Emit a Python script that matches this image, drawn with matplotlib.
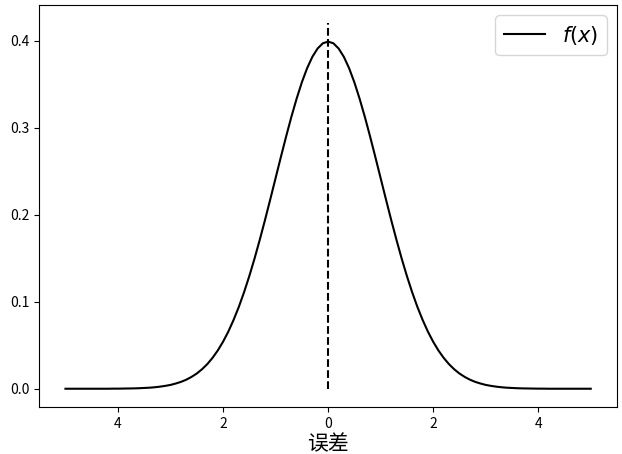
# Normal error curve f(x) with the mean marked.
import matplotlib
matplotlib.use('Agg')
import matplotlib.pyplot as plt

plt.rcParams['font.family'] = ['Noto Sans CJK SC', 'DejaVu Sans']
plt.rcParams['mathtext.fontset'] = 'dejavusans'

# Curve samples (x from -5 to 5 in steps of 0.1).
x_vals = [-5.0, -4.9, -4.8, -4.7, -4.6, -4.5, -4.4, -4.3, -4.2, -4.1,
          -4.0, -3.9, -3.8, -3.7, -3.6, -3.5, -3.4, -3.3, -3.2, -3.1,
          -3.0, -2.9, -2.8, -2.7, -2.6, -2.5, -2.4, -2.3, -2.2, -2.1,
          -2.0, -1.9, -1.8, -1.7, -1.6, -1.5, -1.4, -1.3, -1.2, -1.1,
          -1.0, -0.9, -0.8, -0.7, -0.6, -0.5, -0.4, -0.3, -0.2, -0.1,
          0.0,
          0.1, 0.2, 0.3, 0.4, 0.5, 0.6, 0.7, 0.8, 0.9, 1.0,
          1.1, 1.2, 1.3, 1.4, 1.5, 1.6, 1.7, 1.8, 1.9, 2.0,
          2.1, 2.2, 2.3, 2.4, 2.5, 2.6, 2.7, 2.8, 2.9, 3.0,
          3.1, 3.2, 3.3, 3.4, 3.5, 3.6, 3.7, 3.8, 3.9, 4.0,
          4.1, 4.2, 4.3, 4.4, 4.5, 4.6, 4.7, 4.8, 4.9, 5.0]
fx_vals = [0.0000, 0.0000, 0.0000, 0.0000, 0.0000, 0.0000, 0.0000, 0.0000, 0.0000, 0.0001,
           0.0001, 0.0002, 0.0003, 0.0004, 0.0006, 0.0009, 0.0012, 0.0017, 0.0024, 0.0033,
           0.0044, 0.0060, 0.0079, 0.0104, 0.0136, 0.0175, 0.0224, 0.0283, 0.0355, 0.0440,
           0.0540, 0.0656, 0.0790, 0.0940, 0.1109, 0.1295, 0.1497, 0.1714, 0.1942, 0.2179,
           0.2420, 0.2661, 0.2897, 0.3123, 0.3332, 0.3521, 0.3683, 0.3814, 0.3910, 0.3970,
           0.3989,
           0.3970, 0.3910, 0.3814, 0.3683, 0.3521, 0.3332, 0.3123, 0.2897, 0.2661, 0.2420,
           0.2179, 0.1942, 0.1714, 0.1497, 0.1295, 0.1109, 0.0940, 0.0790, 0.0656, 0.0540,
           0.0440, 0.0355, 0.0283, 0.0224, 0.0175, 0.0136, 0.0104, 0.0079, 0.0060, 0.0044,
           0.0033, 0.0024, 0.0017, 0.0012, 0.0009, 0.0006, 0.0004, 0.0003, 0.0002, 0.0001,
           0.0001, 0.0000, 0.0000, 0.0000, 0.0000, 0.0000, 0.0000, 0.0000, 0.0000, 0.0000]

# mean line
mean_x = 0.0
mean_top = 0.42

# tick labels as they appear (minus signs not rendered in the original)
x_ticks = [-4, -2, 0, 2, 4]
x_tick_labels = ['4', '2', '0', '2', '4']
y_ticks = [0.0, 0.1, 0.2, 0.3, 0.4]
y_tick_labels = ['0.0', '0.1', '0.2', '0.3', '0.4']

fig, ax = plt.subplots(figsize=(6.22, 4.54), dpi=100)
fig.subplots_adjust(left=0.063, right=0.992, bottom=0.1035, top=0.989)

ax.plot(x_vals, fx_vals, color='black', linewidth=1.5, label='$f(x)$')
ax.vlines(mean_x, 0, mean_top, colors='black', linestyles='dashed', linewidth=1.5)

ax.set_xticks(x_ticks)
ax.set_xticklabels(x_tick_labels)
ax.set_yticks(y_ticks)
ax.set_yticklabels(y_tick_labels)
ax.tick_params(labelsize=10)

ax.set_xlabel('误差', fontsize=15, labelpad=2)
ax.legend(loc='upper right', fontsize=15)

fig.savefig('out.png', dpi=100)
